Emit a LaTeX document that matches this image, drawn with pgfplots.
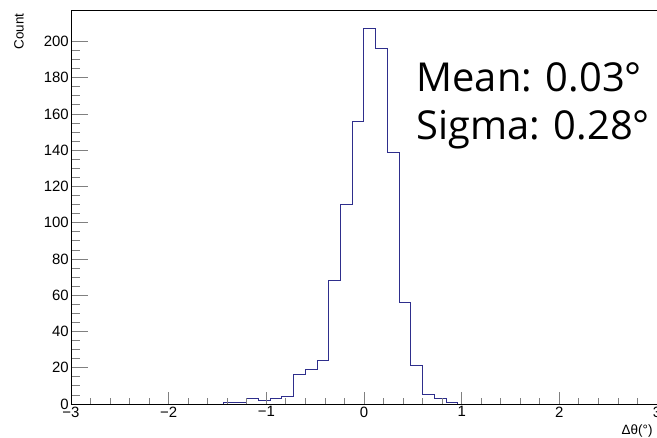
\documentclass[border=0pt]{standalone}
\usepackage{fontspec}
\setmainfont{Liberation Sans}
\newfontfamily\opensans{Open Sans}
\usepackage{pgfplots}
\pgfplotsset{compat=1.18}
\definecolor{histc}{rgb}{0.18,0.18,0.55}
\begin{document}
\begin{tikzpicture}
\begin{axis}[
  scale only axis, width=586bp, height=394bp,
  xmin=-3, xmax=3, ymin=0, ymax=217.35,
  xtick={-3,-2,-1,0,1,2,3},
  xticklabels={−3,−2,−1,0,1,2,3},
  ytick={0,20,40,60,80,100,120,140,160,180,200},
  minor x tick num=4, minor y tick num=3,
  tick align=inside, tick pos=left,
  xtick style={/pgfplots/major tick length=11.5bp, /pgfplots/minor tick length=5.8bp, line width=0.8bp},
  ytick style={/pgfplots/major tick length=17bp, /pgfplots/minor tick length=9bp, line width=0.8bp},
  ticklabel style={font=\fontsize{15}{17}\selectfont},
  /pgf/number format/assume math mode=true,
  xticklabel style={inner sep=1bp, yshift=-1.5bp},
  yticklabel style={inner sep=1bp, xshift=-1bp},
  axis line style={line width=0.8bp},
  axis on top,
]
\addplot[const plot, draw=histc, line width=1bp] coordinates {
(-3,0) (-1.44,1) (-1.32,1) (-1.20,3) (-1.08,2) (-0.96,3) (-0.84,4)
(-0.72,16) (-0.60,19) (-0.48,24) (-0.36,68) (-0.24,110) (-0.12,156)
(0,207) (0.12,196) (0.24,139) (0.36,56) (0.48,21) (0.60,5) (0.72,3)
(0.84,1) (0.96,0) (3,0)
};
\draw[gray!70, line width=0.8bp] (rel axis cs:0,1) -- (rel axis cs:1,1) -- (rel axis cs:1,0);
\draw[black!80, line width=0.8bp] (rel axis cs:0,1) -- (rel axis cs:0.108,1);
\draw[black!80, line width=0.8bp] (rel axis cs:0.89,1) -- (rel axis cs:1,1);
\end{axis}
\node[rotate=90, anchor=east, font=\fontsize{13.5}{15}\selectfont] at (-52bp,394bp) {Count};
\node[anchor=east, font=\fontsize{13.5}{15}\selectfont] at (585bp,-27bp) {Δθ(°)};
\node[anchor=base west, font=\opensans\fontsize{40}{48}\selectfont] at (342bp,312.3bp) {Mean: 0.03°};
\node[anchor=base west, font=\opensans\fontsize{40}{48}\selectfont] at (342bp,264bp) {Sigma: 0.28°};
\pgfresetboundingbox
\path[use as bounding box] (-71bp,-34bp) rectangle (586bp,404bp);
\end{tikzpicture}
\end{document}
